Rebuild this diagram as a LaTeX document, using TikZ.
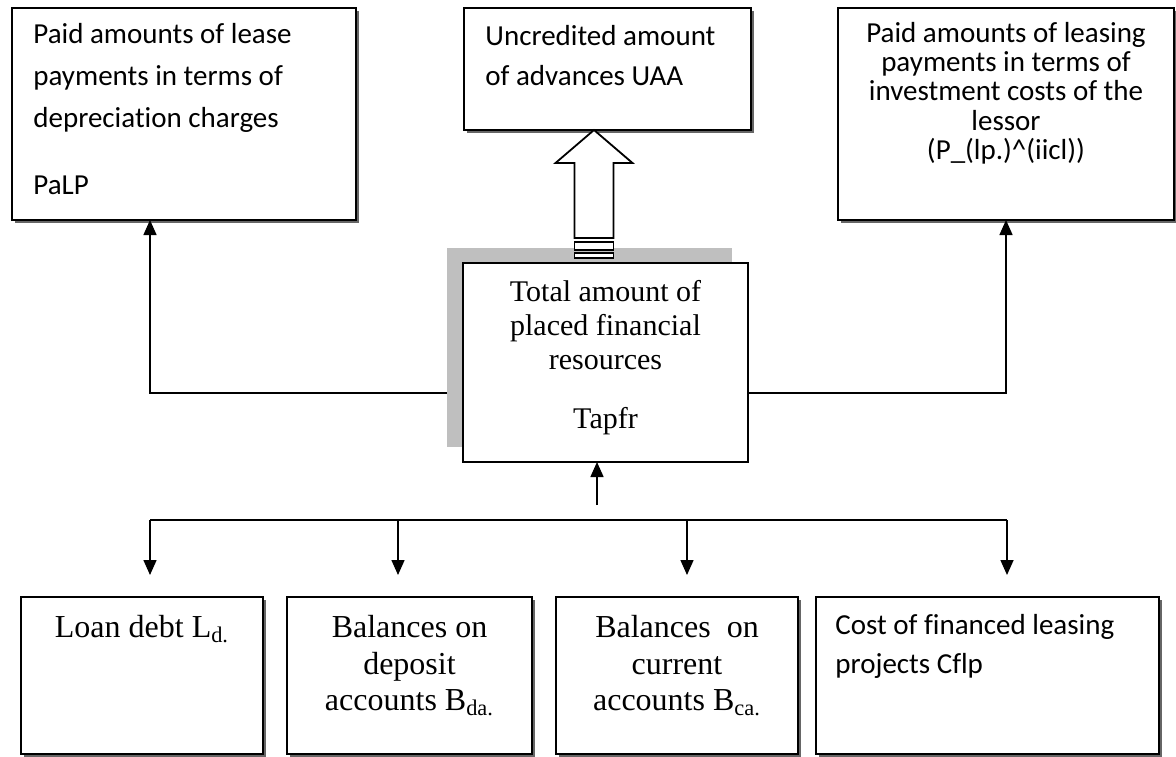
\documentclass[tikz,border=0pt]{standalone}
\usepackage{fontspec}
\setmainfont{Liberation Serif}
\newfontfamily\calibri[Ligatures=NoCommon]{Carlito}
\usetikzlibrary{positioning, arrows.meta, shadows, backgrounds}
\tikzstyle{box} = [rectangle, draw=black, line width=0.9pt, fill=white, outer sep=0pt, drop shadow={shadow xshift=1.5pt, shadow yshift=-1.5pt, fill=black!60, opacity=1}]
\tikzstyle{txt} = [inner sep=0pt, text=black]
\tikzstyle{arrow} = [line width=0.75pt, -{Triangle[width=6.5pt,length=7.5pt]}]
\tikzstyle{line} = [line width=0.75pt]
\tikzstyle{hollow} = [line width=0.9pt, fill=white, line join=miter]

\begin{document}
\begin{tikzpicture}[x=0.5pt, y=-0.5pt]
\useasboundingbox (0,0) rectangle (1176,756);

\node (palp) [box, minimum width=172pt, minimum height=106pt] at (184,114) {};
\node (uaa) [box, minimum width=143.5pt, minimum height=61pt] at (607.5,69) {};
\node (iicl) [box, minimum width=168pt, minimum height=106pt] at (1006,114) {};
\node (tapfr) [rectangle, draw=black, line width=0.9pt, fill=white, outer sep=0pt, minimum width=142.5pt, minimum height=99.5pt] at (605.5,362.5) {};
\node (loan) [box, minimum width=121pt, minimum height=78.5pt] at (142,675.5) {};
\node (depo) [box, minimum width=122.5pt, minimum height=78.5pt, right=12pt of loan] {};
\node (curr) [box, minimum width=121pt, minimum height=78.5pt, right=12pt of depo] {};
\node (cflp) [box, minimum width=171.5pt, minimum height=78.5pt, right=9pt of curr] {};

\begin{scope}[on background layer]
\fill [black!25] ([shift={(-16,-15)}]tapfr.north west) rectangle ([shift={(-16,-15)}]tapfr.south east);
\end{scope}

% texts
\node (palptxt) [txt, below right=7.5pt and 10.5pt of palp.north west, align=left, font=\calibri\fontsize{14.5pt}{21pt}\selectfont] {Paid amounts of lease\\ payments in terms of\\ depreciation charges\\[12.5pt] PaLP};
\node (uaatxt) [txt, below right=8.5pt and 10.5pt of uaa.north west, align=left, font=\calibri\fontsize{14.5pt}{20pt}\selectfont] {Uncredited amount\\ of advances UAA};
\node (iicltxt) [txt, below=7pt of iicl.north, align=center, font=\calibri\fontsize{14.5pt}{14.6pt}\selectfont] {Paid amounts of leasing\\ payments in terms of\\ investment costs of the\\ lessor\\ (P\_(lp.)\textasciicircum(iicl))};
\node (tapfrtxt) [txt, below=8.5pt of tapfr.north, align=center, font=\fontsize{15pt}{17pt}\selectfont] {Total amount of\\ placed financial\\ resources\\[12.5pt] Tapfr};
\node (loantxt) [txt, below=9pt of loan.north, font=\fontsize{16pt}{18.25pt}\selectfont] {Loan debt L\textsubscript{d.}};
\node (depotxt) [txt, below=9pt of depo.north, align=center, font=\fontsize{16pt}{18.25pt}\selectfont] {Balances on\\ deposit\\ accounts B\textsubscript{da.}};
\node (currtxt) [txt, below=9pt of curr.north, align=center, font=\fontsize{16pt}{18.25pt}\selectfont] {Balances\ \ on\\ current\\ accounts B\textsubscript{ca.}};
\node (cflptxt) [txt, below right=8.5pt and 9.5pt of cflp.north west, align=left, font=\calibri\fontsize{14.5pt}{19.5pt}\selectfont] {Cost of financed leasing\\ projects Cflp};

% hollow arrow
\coordinate (tip) at ([xshift=-6.75pt]uaa.south);
\draw [hollow] (tip) -- ++(38.5,33) -- ++(-19,0) -- ++(0,75) -- ++(-39,0) -- ++(0,-75) -- ++(-19,0) -- cycle;
\draw [hollow] ([shift={(-19.5,112)}]tip) rectangle ++(39,8);
\draw [hollow] ([shift={(-19.5,123)}]tip) rectangle ++(39,5);

% connectors
\draw [arrow] ([xshift=-8pt, yshift=-15.25pt]tapfr.west) -| ([xshift=-17pt]palp.south);
\draw [arrow] ([yshift=-15.25pt]tapfr.east) -| (iicl.south);
\coordinate (feed) at ([xshift=-4.25pt, yshift=-21.5pt]tapfr.south);
\draw [arrow] (feed) -- (feed |- tapfr.south);
\coordinate (busl) at ([xshift=4pt, yshift=38.5pt]loan.north);
\coordinate (busr) at ([xshift=9.75pt, yshift=38.5pt]cflp.north);
\draw [line] (busl) -- (busr);
\foreach \b/\d in {loan/4pt, depo/-5.75pt, curr/5pt, cflp/9.75pt}
  \draw [arrow, shorten >=11pt] ([xshift=\d]\b.north |- busl) -- ([xshift=\d]\b.north);

\end{tikzpicture}
\end{document}
